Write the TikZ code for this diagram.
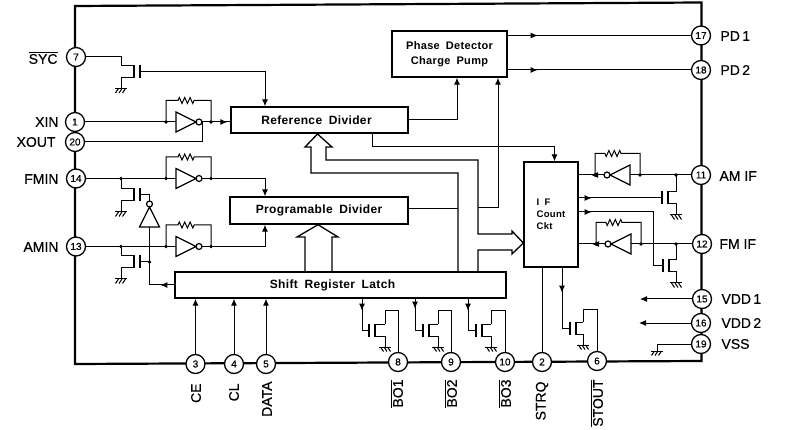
\documentclass[tikz,border=0pt]{standalone}
\usepackage{fontspec}
\setmainfont{Liberation Sans}
\newfontfamily\blockfont[LetterSpace=3,WordSpace=1.8]{Liberation Sans}
\newfontfamily\lblfont[FakeBold=0.4]{Liberation Sans}
\usetikzlibrary{calc,arrows.meta,decorations.markings}
\tikzset{
  pinc/.style={circle,draw,fill=white,inner sep=0pt,minimum size=19pt,line width=1.3pt,font=\lblfont\fontsize{10}{10}\selectfont},
  lbl/.style={inner sep=0pt,font=\lblfont\fontsize{14}{16}\selectfont},
  blockbox/.style={draw,line width=1.4pt,inner sep=0pt,align=center,font=\blockfont\bfseries\fontsize{12}{15.5}\selectfont},
  marrow/.style={postaction={decorate},decoration={markings,mark=at position #1 with {\arrow{Latex[length=7pt,width=6pt]}}}},
  pics/gnd/.style={code={
    \draw (-6,0)--(6,0);
    \foreach \x in {-2.5,1,4.5} \draw (\x,0)--(\x-3,4.5);
  }},
  pics/nmos/.style={code={
    \coordinate (-g) at (0,0); \coordinate (-d) at (-#1,-6); \coordinate (-s) at (-#1,6);
    \draw[line width=1.4pt] (0,-6.5)--(0,6.5) (-6,-6.5)--(-6,6.5);
    \draw (-6,-6)--(-d); \draw (-6,6)--(-s)--++(0,11);
    \pic[transform shape] at (-#1,17) {gnd};
  }},
  pics/notgate/.style={code={
    \coordinate (-in) at (0,0); \coordinate (-out) at (26,0);
    \draw[line width=1.2pt] (0,-10)--(20,0)--(0,10)--cycle (23,0) circle(3);
  }},
  pics/invr/.style={code={
    \coordinate (-in) at (0,0); \coordinate (-out) at (45,0);
    \pic[transform shape] at (10,0) {notgate};
    \draw (0,0)--(10,0) (36,0)--(45,0);
    \draw (0,0)--(0,-21.5)--(#1-8,-21.5)--++(1.3,-3)--++(2.7,6)--++(2.7,-6)--++(2.7,6)--++(2.7,-6)--++(2.7,6)--++(1.3,-3)--(45,-21.5)--(45,0);
    \fill (0,0) circle(1.9) (45,0) circle(1.9);
  }},
  pics/invr/.default=20
}
\begin{document}
\begin{tikzpicture}[x=1pt,y=-1pt,line width=1pt,>={Latex[length=7pt,width=6pt]}]
  \useasboundingbox (0,0) rectangle (795,430);
  % contorno
  \draw[line width=2.2pt] (75,6)--(701.5,2.5)--(701.5,361)--(75,364)--cycle;
  % pines
  \foreach \n/\x/\y in {7/76/57,1/75/122,20/75/142,14/76/178.5,13/76/246.5,
      3/195.5/364,4/234/364,5/266/364,8/398/362,9/451/362,10/505/362,2/542/362,6/597/361,
      17/701/35.5,18/701/70,11/701/175,12/702/244,15/702/299,16/701/323,19/701/344}
    \node[pinc] (p\n) at (\x,\y) {\n};
  % bloques
  \node[blockbox,minimum width=115pt,minimum height=46pt,font=\blockfont\bfseries\fontsize{11}{15.5}\selectfont] (pd) at (449.5,54) {Phase Detector\\Charge Pump};
  \node[blockbox,minimum width=177pt,minimum height=26pt] (ref) at (319.5,120) {\hspace{-4pt}Reference Divider\hspace{2pt}};
  \node[blockbox,minimum width=178pt,minimum height=27pt] (prog) at (319,210.5) {Programable Divider};
  \node[blockbox,minimum width=331pt,minimum height=26pt] (shift) at (340.5,285) {Shift Register Latch\hspace{16pt}};
  \node[blockbox,minimum width=54pt,minimum height=105pt,align=left,font=\blockfont\bfseries\fontsize{9.5}{12}\selectfont] (ifc) at (551,214.5) {I F\\Count\\Ckt};
  % textos
  \node[lbl,anchor=east] (lsyc) at (58,58) {$\overline{\hbox{SYC}}$};
  \node[lbl,anchor=east] (lxin) at (59,122) {XIN};
  \node[lbl,anchor=east] (lxout) at (56,142) {XOUT};
  \node[lbl,anchor=east] (lfm) at (59,179) {FMIN};
  \node[lbl,anchor=east] (lam) at (59,247) {AMIN};
  \node[lbl,anchor=west] (lpd1) at (720,36) {PD\,1};
  \node[lbl,anchor=west] (lpd2) at (720,70) {PD\,2};
  \node[lbl,anchor=west] (lamif) at (719,176) {AM IF};
  \node[lbl,anchor=west] (lfmif) at (719,244) {FM IF};
  \node[lbl,anchor=west] (lv1) at (721,299) {VDD\,1};
  \node[lbl,anchor=west] (lv2) at (721,323) {VDD\,2};
  \node[lbl,anchor=west] (lvss) at (721,344) {VSS};
  \foreach \t/\x/\y/\s in {ce/196/383/CE,cl/234/383/CL,data/267/381/DATA,strq/542/381/STRQ}
    \node[lbl,rotate=90,anchor=east] (l\t) at (\x,\y) {\s};
  \foreach \t/\x/\s in {bo1/397/BO1,bo2/451/BO2,bo3/505/BO3,stout/597/STOUT}
    \node[lbl,rotate=90,anchor=east] (l\t) at (\x,379) {$\overline{\hbox{\s}}$};
  % entrada SYC
  \pic (t7) at (140,71.5) {nmos=19};
  \draw (p7.east) -| (t7-d);
  \draw[->] (t7-g) -| (ref.north -| 265,0);
  % osciladores
  \pic (i1) at (166,122) {invr};
  \pic (i14) at (166,178.5) {invr};
  \pic (i13) at (166,246.5) {invr};
  \draw (p1.east)--(i1-in);
  \draw[marrow=-3pt] (i1-out)--(ref.west |- i1-out);
  \draw (p20.east) -| (i1-out);
  \draw (p14.east)--(i14-in);
  \draw (p13.east)--(i13-in);
  \draw[->] (i14-out) -| (prog.north -| 265,0);
  \draw[->] (i13-out) -| (prog.south -| 265,0);
  % conmutacion FM/AM
  \pic (t14) at (140,195) {nmos=19};
  \pic (t13) at (140,262) {nmos=19};
  \pic[rotate=90] (vi) at (149.5,227) {notgate};
  \draw (t14-d)--(t14-d |- p14);
  \draw (t13-d)--(t13-d |- p13);
  \fill (t14-d |- p14) circle(1.9) (t13-d |- p13) circle(1.9);
  \draw (t14-g) -| (vi-out);
  \draw (t13-g)--(t13-g -| vi-in);
  \fill (t13-g -| vi-in) circle(1.9);
  \draw[marrow=14pt] (shift.west) -| (vi-in);
  % buses
  \draw[line width=1.3pt] (shift.north -| 458,0) |- (311,173)--(311,147)--(305,147)--(317.5,134)--(332,147)--(326,147)--(326,160)
    -| (478,234)--(512,234)--(512,231)--(ifc.west |- 0,243)--(512,254)--(512,250)--(478,250)--(shift.north -| 478,0);
  \draw[line width=1.3pt] (shift.north -| 305,0)--(305,237)--(297,237)--(prog.south -| 318,0)--(338,237)--(332,237)--(shift.north -| 332,0);
  % salidas de divisores
  \draw (prog.east |- 0,208.5)--(458,208.5);
  \draw[->] (478,208) -| (pd.south -| 498,0);
  \draw[->] (ref.east) -| (pd.south -| 457,0);
  \draw[->] (ref.south -| 372,0)--(372,147) -| (ifc.north -| 554.5,0);
  \draw[marrow=30pt] (pd.east |- p17)--(p17.west);
  \draw[marrow=30pt] (pd.east |- p18)--(p18.west);
  % entradas serie
  \draw[->] (p3.north)--(shift.south -| p3);
  \draw[->] (p4.north)--(shift.south -| p4);
  \draw[->] (p5.north)--(shift.south -| p5);
  % salidas BO
  \pic[xscale=-1] (t8) at (369,330) {nmos=16};
  \pic[xscale=-1] (t9) at (423,330) {nmos=15};
  \pic[xscale=-1] (t10) at (476,330) {nmos=15};
  \draw[marrow=12pt] (shift.south -| 362,0) |- (t8-g);
  \draw[marrow=10pt] (shift.south -| 415,0) |- (t9-g);
  \draw[marrow=12pt] (shift.south -| 468,0) |- (t10-g);
  \draw (t8-d)--++(0,-13) -| (p8.north);
  \draw (t9-d)--++(0,-13) -| (p9.north);
  \draw (t10-d)--++(0,-13) -| (p10.north);
  % STRQ y STOUT
  \pic[xscale=-1] (t6) at (570,328) {nmos=13};
  \draw (p2.north)--(ifc.south -| p2);
  \draw[marrow=25pt] (ifc.south -| 562,0) |- (t6-g);
  \draw (t6-d)--++(0,-12) -| (p6.north);
  % entradas IF
  \pic[xscale=-1] (i11) at (640,175) {invr=27};
  \pic[xscale=-1] (i12) at (641,244) {invr=27};
  \pic[xscale=-1] (t11) at (662,198) {nmos=14};
  \pic[xscale=-1] (t12) at (663,266) {nmos=13};
  \draw (p11.west)--(i11-in);
  \draw (p12.west)--(i12-in);
  \draw[marrow=13pt] (i11-out)--(ifc.east |- i11-out);
  \draw[marrow=13pt] (i12-out)--(ifc.east |- i12-out);
  \draw (t11-d)--(t11-d |- p11);
  \draw (t12-d)--(t12-d |- p12);
  \fill (t11-d |- p11) circle(1.9) (t12-d |- p12) circle(1.9);
  \draw[marrow=13pt] (ifc.east |- t11-g)--(t11-g);
  \draw[marrow=13pt] (ifc.east |- 0,212)--(653,212) |- (t12-g);
  % alimentacion
  \coordinate (v15) at (640,299);
  \coordinate (v16) at (639,323);
  \coordinate (g19) at (657,351);
  \draw[->] (p15.west)--(v15);
  \draw[->] (p16.west)--(v16);
  \draw (p19.west) -| (g19);
  \pic at (g19) {gnd};
\end{tikzpicture}
\end{document}
